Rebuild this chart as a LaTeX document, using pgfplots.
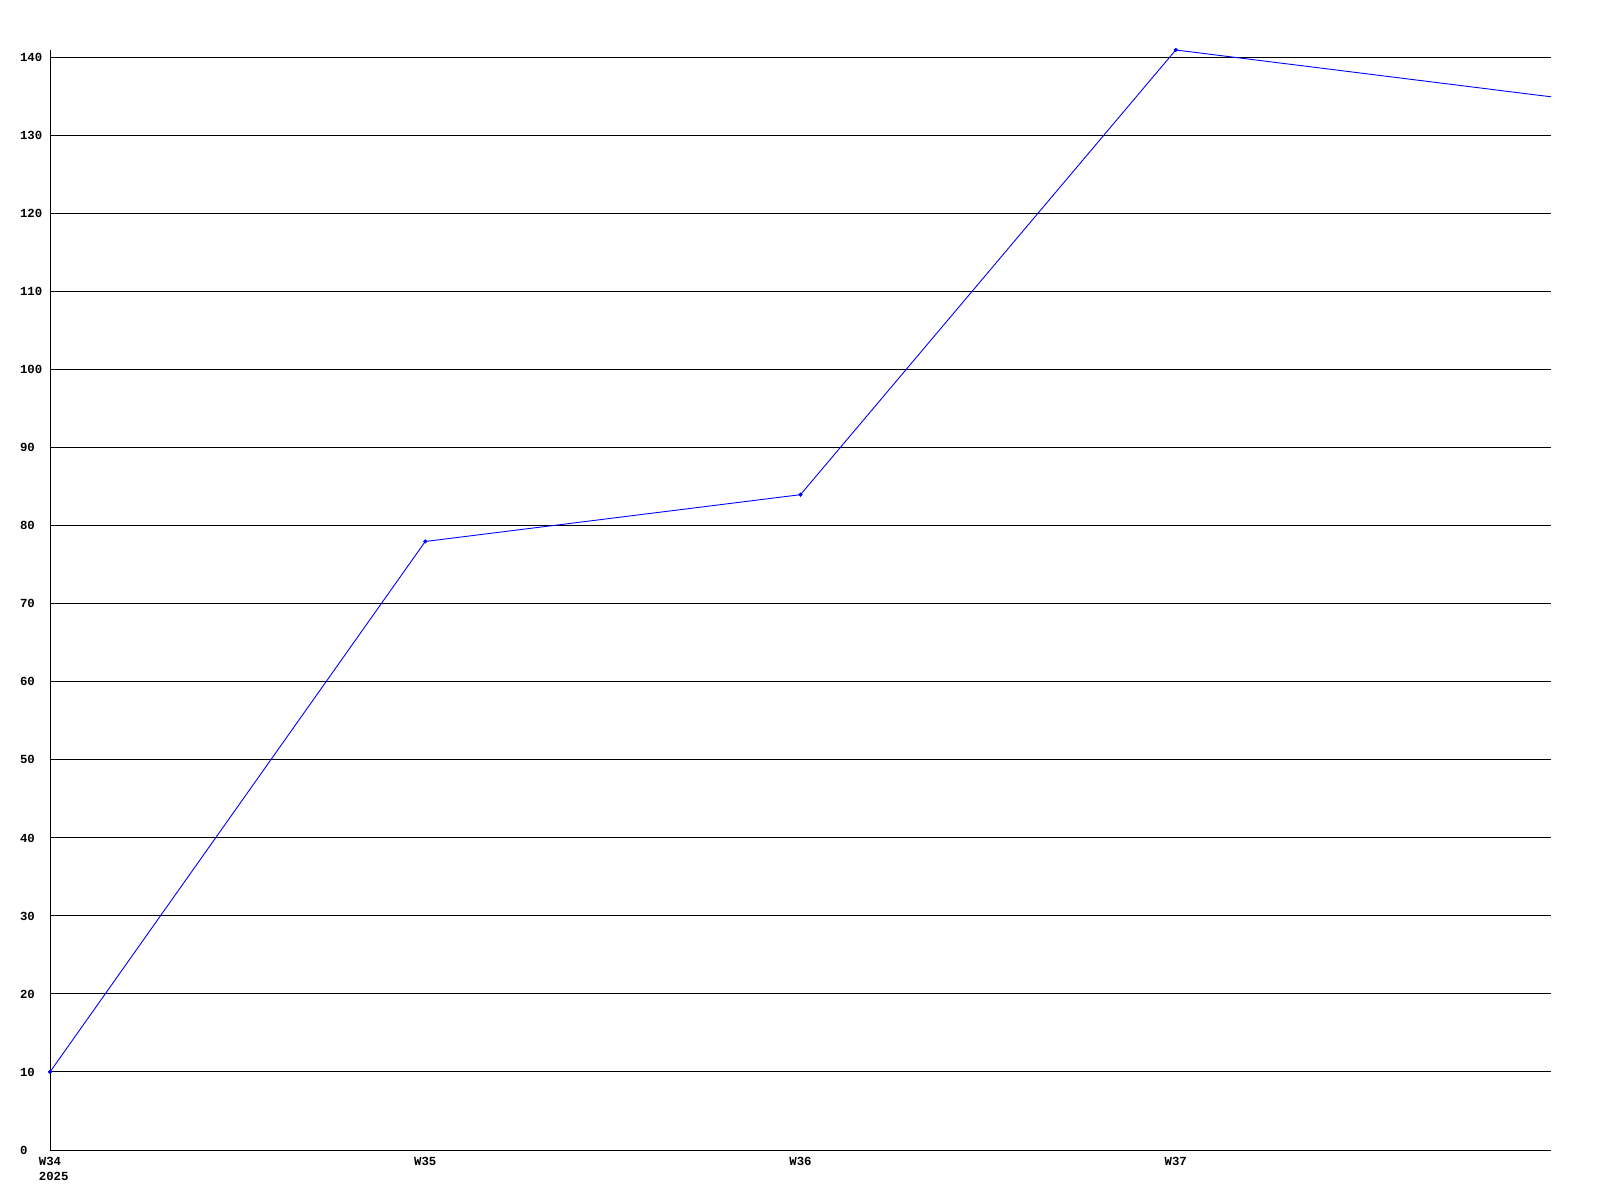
\documentclass[border=0pt]{standalone}
\usepackage{fontspec}
\setmainfont{Liberation Mono}
\usepackage{pgfplots}
\pgfplotsset{compat=1.18}
\begin{document}
\begin{tikzpicture}
\useasboundingbox (-25bp,-25bp) rectangle (775bp,575bp);
\begin{axis}[
  at={(0,0)}, anchor=south west,
  scale only axis,
  width=750.5bp, height=550bp,
  xmin=0, xmax=4, ymin=0, ymax=141,
  axis x line=bottom, axis y line=left,
  axis line style={-, line width=0.5bp, black},
  xtick={0,1,2,3}, xticklabels={{W34\\\rlap{2025}\hphantom{W34}},W35,W36,W37},
  ytick={0,10,...,140},
  ymajorgrids, grid style={black, line width=0.5bp},
  major tick length=0pt,
  tick label style={font=\fontsize{6.2}{7.5}\selectfont\bfseries},
  xticklabel style={align=center, yshift=0bp},
  yticklabel style={anchor=west, xshift=-18.5bp},
  /pgf/number format/assume math mode=true,
  clip=false,
]
\addplot[blue, line width=0.45bp, mark=*, mark size=0.8bp, mark indices={1,2,3,4}] coordinates {
  (0,10) (1,78) (2,84) (3,141) (4,135)
};
\end{axis}
\end{tikzpicture}
\end{document}
